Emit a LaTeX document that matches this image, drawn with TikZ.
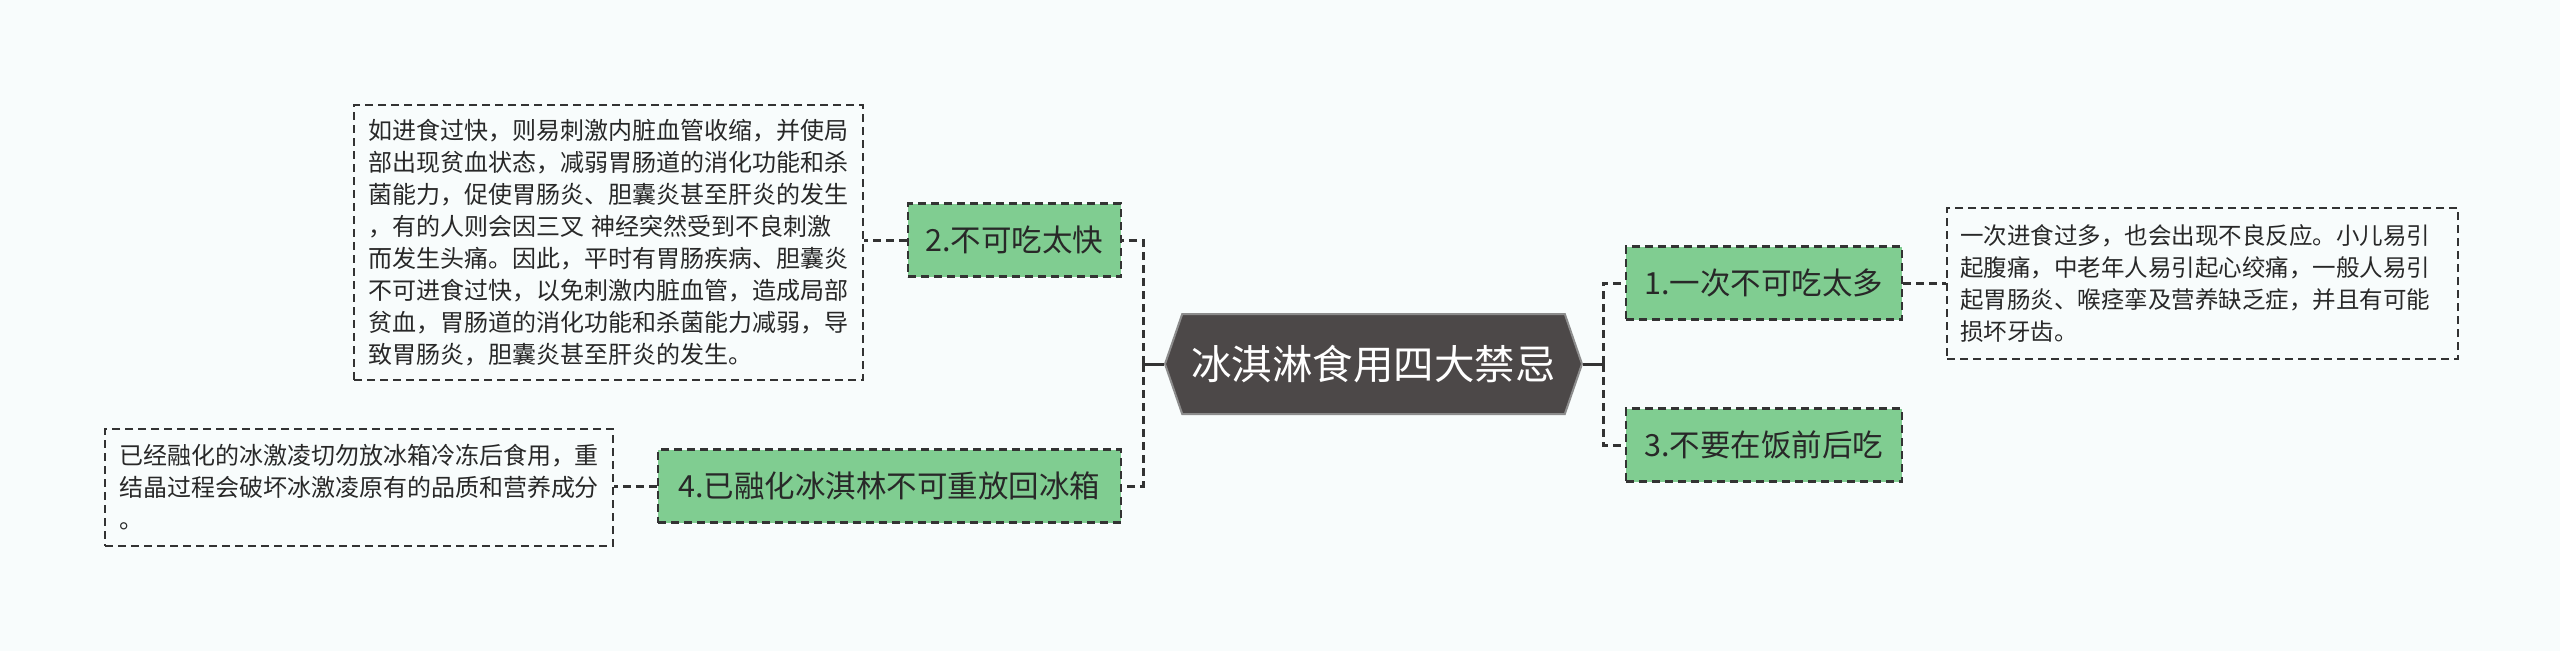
\documentclass[tikz,border=0pt]{standalone}
\usepackage{fontspec}
\setmainfont{Noto Sans CJK SC}
\usetikzlibrary{shapes.symbols}
\definecolor{bg}{RGB}{248,252,252}
\definecolor{leaf}{RGB}{128,205,145}
\definecolor{hexfill}{RGB}{76,72,72}
\definecolor{hexline}{RGB}{140,140,140}
\definecolor{ln}{RGB}{51,51,51}
\definecolor{txt}{RGB}{40,40,40}
\tikzset{
  dashpat/.style={dash pattern=on 8pt off 5pt},
  topic/.style={draw=ln, line width=2.5pt, dashpat, fill=leaf, text=txt,
    font=\fontsize{30.5}{36}\selectfont, minimum height=73pt, inner sep=0pt},
  note/.style={draw=ln, line width=2pt, dashpat, text=txt,
    font=\fontsize{24}{32}\selectfont, align=left, inner ysep=0pt, anchor=north west},
  centre/.style={signal, signal to=west and east, signal pointer angle=142,
    draw=hexline, line width=2pt, fill=hexfill, text=white,
    font=\fontsize{40.5}{48}\selectfont, minimum width=417pt, minimum height=100pt, inner sep=0pt},
  link/.style={draw=ln, line width=3pt, dashpat},
  stub/.style={draw=ln, line width=3pt},
}
\begin{document}
\begin{tikzpicture}[x=1pt,y=-1pt]
\useasboundingbox (0,0) rectangle (2560,651);
\fill[bg] (0,0) rectangle (2560,651);

\node[centre] (c) at (1373.5,364) {冰淇淋食用四大禁忌};

\node[topic, minimum width=213pt] (t2) at (1014.5,240) {2.不可吃太快};
\node[topic, minimum width=463pt] (t4) at (889.5,486) {4.已融化冰淇林不可重放回冰箱};
\node[topic, minimum width=276pt] (t1) at (1764,283) {1.一次不可吃太多};
\node[topic, minimum width=276pt] (t3) at (1764,445) {3.不要在饭前后吃};

\node[note, text width=481pt, inner xsep=14pt, minimum height=275pt] (n2) at (353,104)
{如进食过快，则易刺激内脏血管收缩，并使局\\
部出现贫血状态，减弱胃肠道的消化功能和杀\\
菌能力，促使胃肠炎、胆囊炎甚至肝炎的发生\\
，有的人则会因三叉 神经突然受到不良刺激\\
而发生头痛。因此，平时有胃肠疾病、胆囊炎\\
不可进食过快，以免刺激内脏血管，造成局部\\
贫血，胃肠道的消化功能和杀菌能力减弱，导\\
致胃肠炎，胆囊炎甚至肝炎的发生。};

\node[note, text width=485pt, inner xsep=13pt, minimum height=151pt,
  font=\fontsize{23.5}{32}\selectfont] (n1) at (1946,207)
{一次进食过多，也会出现不良反应。小儿易引\\
起腹痛，中老年人易引起心绞痛，一般人易引\\
起胃肠炎、喉痉挛及营养缺乏症，并且有可能\\
损坏牙齿。};

\node[note, text width=480pt, inner xsep=14pt, minimum height=117pt] (n4) at (104,428)
{已经融化的冰激凌切勿放冰箱冷冻后食用，重\\
结晶过程会破坏冰激凌原有的品质和营养成分\\
。};

\coordinate (jl) at (1143,364);
\coordinate (jr) at (1603,364);
\draw[stub] (c.west) -- (jl);
\draw[stub] (c.east) -- (jr);
\draw[link] (jl) |- (t2.east);
\draw[link] (jl) |- (t4.east);
\draw[link] (jr) |- (t1.west);
\draw[link] (jr) |- (t3.west);
\draw[link] (t2.west) -- (t2.west -| n2.east);
\draw[link] (t4.west) -- (t4.west -| n4.east);
\draw[link] (t1.east) -- (t1.east -| n1.west);
\end{tikzpicture}
\end{document}
